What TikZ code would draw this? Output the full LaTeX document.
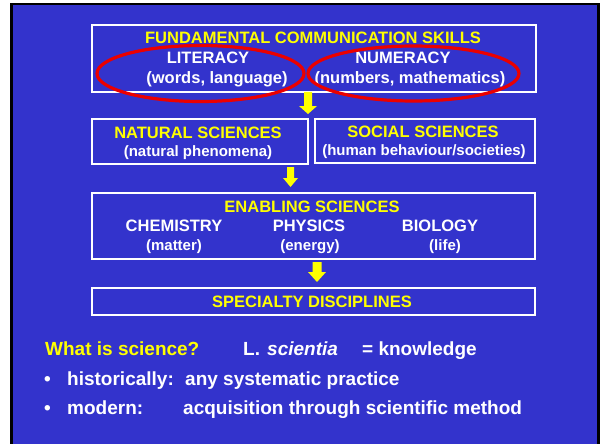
\documentclass[tikz,border=0pt]{standalone}
\usepackage{fontspec}
\setmainfont{Liberation Sans}
\definecolor{slideblue}{RGB}{51,51,204}
\definecolor{hiyellow}{RGB}{255,255,0}
\definecolor{ringred}{RGB}{235,0,0}
\newcommand{\fsTitle}{\fontsize{16.5}{18}\selectfont\bfseries}
\newcommand{\fsSub}{\fontsize{15}{17}\selectfont\bfseries}
\newcommand{\fsBody}{\fontsize{19}{22}\selectfont\bfseries}
\tikzset{
  box/.style={draw=white, line width=2pt, inner sep=0pt, anchor=north west},
  ttl/.style={text=hiyellow, font=\fsTitle, inner sep=0pt, anchor=base},
  wtl/.style={text=white, font=\fsTitle, inner sep=0pt, anchor=base},
  sub/.style={text=white, font=\fsSub, inner sep=0pt, anchor=base},
  body/.style={text=white, font=\fsBody, inner sep=0pt, anchor=base west},
  ring/.style={draw=ringred, line width=3.2pt},
  flow/.style={fill=hiyellow}
}
\begin{document}
\begin{tikzpicture}[x=1pt,y=-1pt]
\useasboundingbox (0,0) rectangle (600,444);
% slide background and frame
\fill[white] (0,0) rectangle (600,444);
\fill[black] (10,3) rectangle (600,444);
\fill[slideblue] (13,5.5) rectangle (597,444);

% boxes
\node[box, minimum width=444pt, minimum height=67pt] (fund) at (91,24) {};
\node[box, minimum width=216pt, minimum height=45pt] (nat) at (91,118) {};
\node[box, minimum width=220pt, minimum height=44pt] (soc) at (314,118) {};
\node[box, minimum width=443pt, minimum height=66pt] (enab) at (91,192) {};
\node[box, minimum width=443pt, minimum height=27pt] (spec) at (91,287) {};

% top box text
\node[ttl] (fundT) at (313,44) {FUNDAMENTAL COMMUNICATION SKILLS};
\node[wtl] (lit) at (208,63.3) {LITERACY};
\node[wtl] (litS) at (217,84) {(words, language)};
\node[wtl] (num) at (403,63.3) {NUMERACY};
\node[wtl] (numS) at (410,84) {(numbers, mathematics)};

% red rings
\draw[ring] (200.5,73.5) ellipse [x radius=103.5, y radius=28];
\draw[ring] (413.5,73.5) ellipse [x radius=105.5, y radius=27.5];

% second row
\node[ttl] (natT) at (198,138) {NATURAL SCIENCES};
\node[sub] (natS) at (198,156) {(natural phenomena)};
\node[ttl] (socT) at (423,137.5) {SOCIAL SCIENCES};
\node[sub] (socS) at (424,155.5) {(human behaviour/societies)};

% enabling sciences
\node[ttl] (enabT) at (312,212.3) {ENABLING SCIENCES};
\node[wtl] (chem) at (174,231.7) {CHEMISTRY};
\node[wtl] (phys) at (309,231.7) {PHYSICS};
\node[wtl] (bio) at (440,231.7) {BIOLOGY};
\node[sub] (chemS) at (174,250) {(matter)};
\node[sub] (physS) at (310,250) {(energy)};
\node[sub] (bioS) at (445,250) {(life)};

% specialty
\node[ttl] (specT) at (312,307.7) {SPECIALTY DISCIPLINES};

% block arrows between levels
\fill[flow] (304,92) -- (312,92) -- (312,106) -- (317,106) -- (308,114) -- (299,106) -- (304,106) -- cycle;
\fill[flow] (287,167) -- (294,167) -- (294,178) -- (298,178) -- (290.5,187) -- (283,178) -- (287,178) -- cycle;
\fill[flow] (312.5,262) -- (321.5,262) -- (321.5,272) -- (326,272) -- (317,282) -- (308,272) -- (312.5,272) -- cycle;

% definition lines
\node[body, text=hiyellow] (q) at (45,355) {What is science?};
\node[body] (lat) at (243,355) {L.};
\node[body] (sci) at (267,355) {\itshape scientia};
\node[body] (eq) at (362,355) {= knowledge};
\node[body] (b1) at (44,385) {•};
\node[body] (h1) at (67,385) {historically:};
\node[body] (h2) at (185,385) {any systematic practice};
\node[body] (b2) at (44,414) {•};
\node[body] (m1) at (67,414) {modern:};
\node[body] (m2) at (183,414) {acquisition through scientific method};
\end{tikzpicture}
\end{document}
